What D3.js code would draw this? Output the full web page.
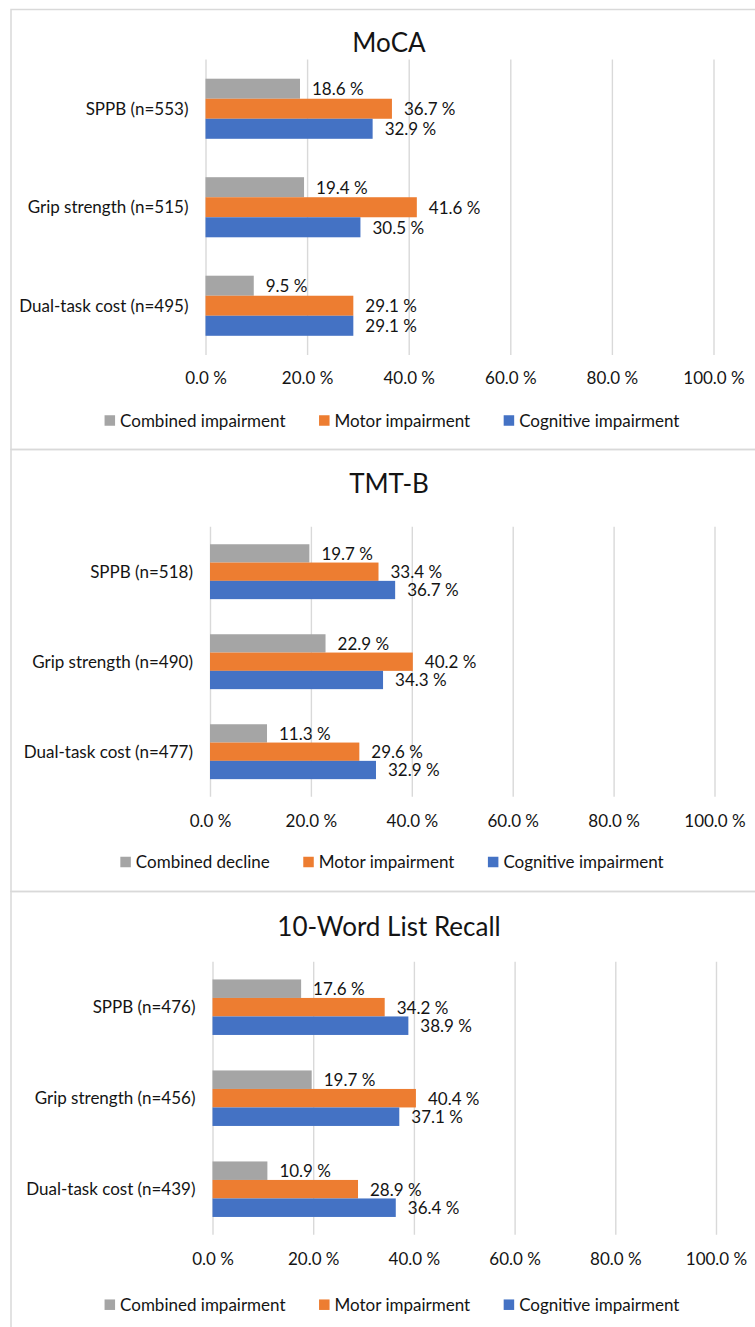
<!DOCTYPE html>
<html>
<head>
<meta charset="utf-8">
<script src="https://cdn.jsdelivr.net/npm/d3@7"></script>
<style>
  html, body { margin: 0; padding: 0; background: #fff; }
  svg { display: block; }
  text { font-family: Lato, "Liberation Sans", Arial, sans-serif; fill: #141414; }
</style>
</head>
<body>
<svg id="chart" width="755" height="1327"></svg>
<script>
// ---------------- DATA ----------------
const panelTitles = ["MoCA", "TMT-B", "10-Word List Recall"];

const mocaCategories   = ["SPPB (n=553)", "Grip strength (n=515)", "Dual-task cost (n=495)"];
const tmtbCategories   = ["SPPB (n=518)", "Grip strength (n=490)", "Dual-task cost (n=477)"];
const recallCategories = ["SPPB (n=476)", "Grip strength (n=456)", "Dual-task cost (n=439)"];

const mocaCombined   = [18.6, 19.4, 9.5];
const mocaMotor      = [36.7, 41.6, 29.1];
const mocaCognitive  = [32.9, 30.5, 29.1];

const tmtbCombined   = [19.7, 22.9, 11.3];
const tmtbMotor      = [33.4, 40.2, 29.6];
const tmtbCognitive  = [36.7, 34.3, 32.9];

const recallCombined  = [17.6, 19.7, 10.9];
const recallMotor     = [34.2, 40.4, 28.9];
const recallCognitive = [38.9, 37.1, 36.4];

const mocaLegend   = ["Combined impairment", "Motor impairment", "Cognitive impairment"];
const tmtbLegend   = ["Combined decline", "Motor impairment", "Cognitive impairment"];
const recallLegend = ["Combined impairment", "Motor impairment", "Cognitive impairment"];

const tickValues = [0, 20, 40, 60, 80, 100];

// ---------------- STYLE / LAYOUT ----------------
const seriesColors = ["#A5A5A5", "#ED7D31", "#4472C4"];
const gridColor = "#d9d9d9";
const FONT = 'Lato, "Liberation Sans", Arial, sans-serif';
const FS = "17px";

const layouts = [
  { boxTop: 9.5,   boxBottom: 449.5, x0: 205.5, x1: 713.5, y0: 59.5,  y1: 355,   titleY: 52,    tickY: 384,   legendY: 420.5 },
  { boxTop: 449.5, boxBottom: 891.5, x0: 210,   x1: 714.5, y0: 526.7, y1: 796.7, titleY: 493.3, tickY: 826.7, legendY: 862 },
  { boxTop: 891.5, boxBottom: 1345,  x0: 212.5, x1: 716,   y0: 961.7, y1: 1234.7,titleY: 935.7, tickY: 1265,  legendY: 1304.7 }
];

const panels = [
  { title: panelTitles[0], cats: mocaCategories,   series: [mocaCombined, mocaMotor, mocaCognitive],       legend: mocaLegend },
  { title: panelTitles[1], cats: tmtbCategories,   series: [tmtbCombined, tmtbMotor, tmtbCognitive],       legend: tmtbLegend },
  { title: panelTitles[2], cats: recallCategories, series: [recallCombined, recallMotor, recallCognitive], legend: recallLegend }
];

const svg = d3.select("#chart");
const fmt = v => d3.format(".1f")(v) + " %";

panels.forEach((p, pi) => {
  const L = layouts[pi];
  const g = svg.append("g");

  // panel border
  g.append("rect")
    .attr("x", 11).attr("y", L.boxTop)
    .attr("width", 770).attr("height", L.boxBottom - L.boxTop)
    .attr("fill", "none").attr("stroke", gridColor).attr("stroke-width", 1.5);

  // title
  g.append("text")
    .attr("x", 389).attr("y", L.titleY)
    .attr("text-anchor", "middle")
    .style("font-size", "26px")
    .text(p.title);

  const x = d3.scaleLinear().domain([0, 100]).range([L.x0, L.x1]);
  const y = d3.scaleBand().domain(p.cats).range([L.y0, L.y1]).paddingInner(0.39).paddingOuter(0.195);
  const seriesIdx = [0, 1, 2];
  const ys = d3.scaleBand().domain(seriesIdx).range([0, y.bandwidth()]);

  // x axis with gridlines
  const xAxis = d3.axisBottom(x).tickValues(tickValues).tickFormat(fmt)
    .tickSizeInner(-(L.y1 - L.y0)).tickSizeOuter(0);
  const ax = g.append("g").attr("transform", `translate(0,${L.y1})`).call(xAxis);
  ax.select(".domain").remove();
  ax.selectAll(".tick line").attr("stroke", gridColor).attr("stroke-width", 1.4);
  ax.selectAll(".tick text")
    .attr("y", L.tickY - L.y1).attr("dy", 0)
    .attr("fill", "#141414")
    .style("font-size", FS)
    .style("font-family", FONT);

  // category axis
  const yAxis = d3.axisLeft(y).tickSize(0).tickPadding(17);
  const ay = g.append("g").attr("transform", `translate(${L.x0},0)`).call(yAxis);
  ay.select(".domain").remove();
  ay.selectAll(".tick text")
    .attr("dy", "0.36em")
    .attr("fill", "#141414")
    .style("font-size", FS)
    .style("font-family", FONT);

  // bars
  seriesIdx.forEach(si => {
    const vals = p.series[si];
    const bg = g.append("g");
    bg.selectAll("rect")
      .data(p.cats.map((c, ci) => ({ c, v: vals[ci] })))
      .join("rect")
      .attr("x", x(0))
      .attr("y", d => y(d.c) + ys(si))
      .attr("width", d => x(d.v) - x(0))
      .attr("height", ys.bandwidth())
      .attr("fill", seriesColors[si]);
    bg.selectAll("text")
      .data(p.cats.map((c, ci) => ({ c, v: vals[ci] })))
      .join("text")
      .attr("x", d => x(d.v) + 12)
      .attr("y", d => y(d.c) + ys(si) + ys.bandwidth() / 2 + 6.3)
      .style("font-size", FS)
      .text(d => fmt(d.v));
  });

  // legend
  const lg = g.append("g");
  const items = lg.selectAll("g").data(p.legend).join("g");
  items.append("rect")
    .attr("width", 10.5).attr("height", 10.5)
    .attr("y", -5.25)
    .attr("fill", (d, i) => seriesColors[i]);
  items.append("text")
    .attr("x", 15.5).attr("y", 6)
    .style("font-size", FS)
    .text(d => d);
  let cx = 0;
  items.each(function () {
    const w = this.getBBox().width;
    d3.select(this).attr("transform", `translate(${cx},0)`);
    cx += w + 33.5;
  });
  const total = cx - 33.5;
  lg.attr("transform", `translate(${392 - total / 2},${L.legendY})`);
});
</script>
</body>
</html>
